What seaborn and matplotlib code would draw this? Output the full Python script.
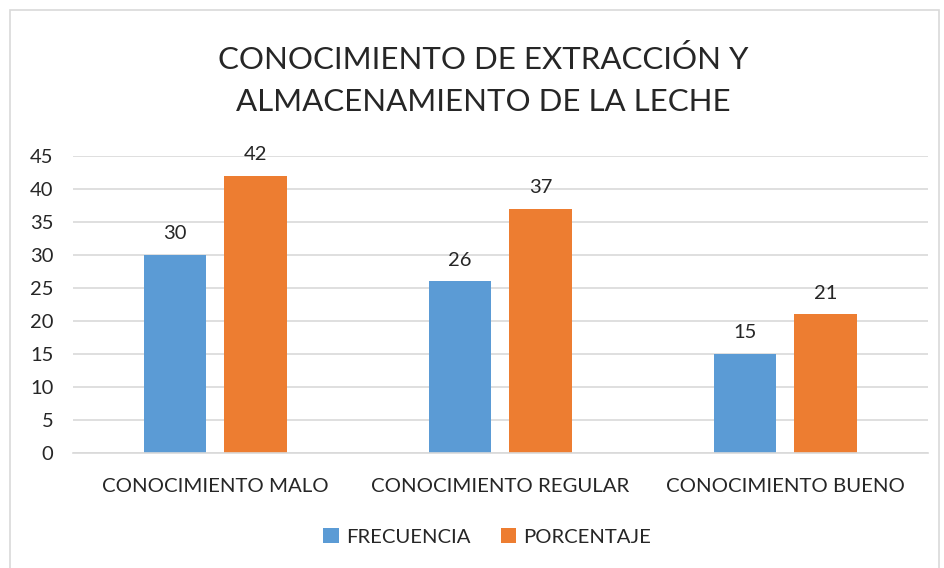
import pandas as pd
import seaborn as sns
import matplotlib.pyplot as plt
from matplotlib.patches import Rectangle

categorias = ["CONOCIMIENTO MALO", "CONOCIMIENTO REGULAR", "CONOCIMIENTO BUENO"]
frecuencia = [30, 26, 15]
porcentaje = [42, 37, 21]
series = ["FRECUENCIA", "PORCENTAJE"]
colores = ["#5B9BD5", "#ED7D31"]

df = pd.DataFrame({
    "categoria": categorias * 2,
    "serie": [series[0]] * 3 + [series[1]] * 3,
    "valor": frecuencia + porcentaje,
})

sns.set_style("white")
plt.rcParams['font.family'] = ['Lato', 'DejaVu Sans']

fig = plt.figure(figsize=(9.44, 5.68), dpi=100)
ax = fig.add_axes([0.0773, 0.2025, 0.9057, 0.5229])

sns.barplot(data=df, x="categoria", y="valor", hue="serie", palette=colores,
            width=0.568, gap=0.222, ax=ax, saturation=1, linewidth=0,
            edgecolor="none", legend=True)

for cont in ax.containers:
    ax.bar_label(cont, fmt="%d", padding=9, fontsize=14.5, color="#262626")

ax.set_ylim(0, 45)
ax.set_yticks(range(0, 46, 5))
ax.set_xlim(-0.5, 2.5)
ax.yaxis.grid(True, color="#D9D9D9", linewidth=1.2)
ax.set_axisbelow(True)
for s in ["top", "right", "left"]:
    ax.spines[s].set_visible(False)
ax.spines["bottom"].set_color("#D9D9D9")
ax.spines["bottom"].set_linewidth(1.2)
ax.tick_params(axis="y", labelsize=14.5, length=0, pad=14, labelcolor="#262626")
ax.tick_params(axis="x", labelsize=14.7, length=0, pad=18, labelcolor="#262626")
ax.set_xlabel("")
ax.set_ylabel("")

fig.text(0.512, 0.858, "CONOCIMIENTO DE EXTRACCIÓN Y\nALMACENAMIENTO DE LA LECHE",
         ha="center", va="center", fontsize=22.5, color="#262626", linespacing=1.6)

handles, labels = ax.get_legend_handles_labels()
ax.legend(handles, labels, loc="center", bbox_to_anchor=(0.516, 0.055),
          bbox_transform=fig.transFigure, ncol=2, frameon=False, fontsize=14.6,
          handlelength=0.75, handleheight=0.75, handletextpad=0.35, columnspacing=1.5,
          labelcolor="#262626")

fig.patches.append(Rectangle((10 / 944, -0.01), 929 / 944, 1 - 10 / 568 + 0.01,
                             transform=fig.transFigure, fill=False,
                             edgecolor="#D9D9D9", linewidth=1.2))

plt.savefig("out.png", dpi=100)
plt.close()
